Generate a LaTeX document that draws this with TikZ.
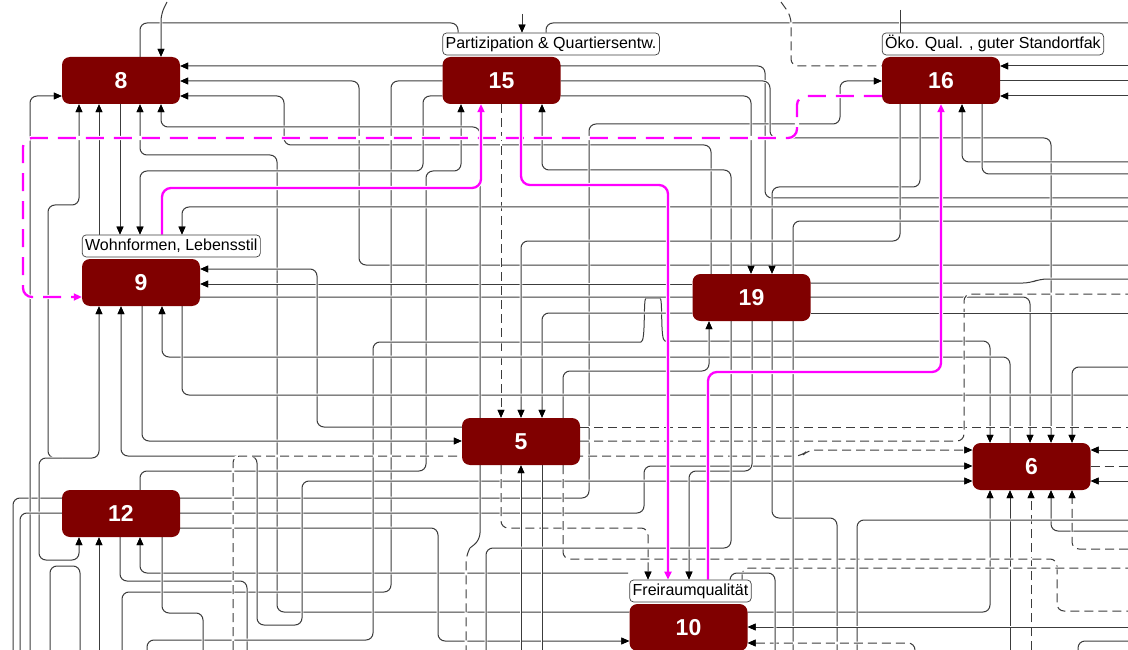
\documentclass[tikz,border=0pt]{standalone}
\usepackage{fontspec}
\setmainfont{Liberation Sans}
\usetikzlibrary{arrows.meta}
\pgfdeclarelayer{bg}
\pgfsetlayers{bg,main}
\definecolor{nodefill}{HTML}{800000}
\definecolor{lc}{HTML}{3C3C3C}
\definecolor{mag}{HTML}{FF00FF}
\tikzset{
  box/.style={fill=nodefill, rounded corners=8pt, minimum width=118pt, minimum height=47pt, inner sep=0pt, text=white, font=\fontsize{23}{23}\selectfont\bfseries},
  lab/.style={draw=black!75, fill=white, rounded corners=4pt, line width=0.7pt, inner xsep=3pt, inner ysep=1pt, minimum height=22pt, font=\fontsize{16}{16}\selectfont, anchor=south west},
  ln/.style={draw=lc, line width=1pt, rounded corners=7pt, preaction={draw=white, line width=2.8pt}},
  dl/.style={ln, dash pattern=on 9pt off 5pt},
  ar/.style={-{Triangle[length=8pt,width=6.5pt,color=black]}},
  ab/.style={{Triangle[length=8pt,width=6.5pt,color=black]}-{Triangle[length=8pt,width=6.5pt,color=black]}},
  mg/.style={draw=mag, line width=2.3pt, rounded corners=9pt, preaction={draw=white,line width=4.2pt}},
  mgd/.style={mg, dash pattern=on 18pt off 10pt},
  mar/.style={-{Triangle[length=8pt,width=7pt]}},
}
\begin{document}
\begin{tikzpicture}[x=1pt,y=-1pt]
\useasboundingbox (0,0) rectangle (1128,650);
% nodes
\node[box] (n8) at (121,80.5) {8};
\node[box] (n15) at (501.5,80.5) {15};
\node[box] (n16) at (941,80.5) {16};
\node[box] (n9) at (141,282.5) {9};
\node[box] (n19) at (751.5,297.5) {19};
\node[box] (n5) at (521,441.5) {5};
\node[box] (n6) at (1031.5,466.5) {6};
\node[box] (n12) at (121,513.5) {12};
\node[box] (n10) at (688.5,627.5) {10};
\node[lab] (l15) at ([yshift=1.5pt]n15.north west) {Partizipation \& Quartiersentw.};
\node[lab] (l16) at ([yshift=1.5pt]n16.north west) {Öko. Qual. , guter Standortfak};
\node[lab] (l9) at ([yshift=1.5pt]n9.north west) {Wohnformen, Lebensstil};
\node[lab] (l10) at ([yshift=1.5pt]n10.north west) {Freiraumqualität};
\begin{pgfonlayer}{bg}
\fill[white] (0,0) rectangle (1128,650);
% black connectors
\draw[ln] (n8.north -| 140,0) -- (140,23) -- (458,23) -- (l15.north -| 458,0);
\draw[ln,ar] (167,2) -- (161,14) -- (n8.north -| 161,0);
\draw[ln,ar] (1128,198) -- (765,198) -- (765,66) -- (n8.east |- 0,66);
\draw[ln,ar] (1128,265) -- (359,265) -- (359,81) -- (n8.east |- 0,81);
\draw[ln,ar] (n19.north -| 711,0) -- (711,145) -- (284,145) -- (284,96) -- (n8.east |- 0,96);
\draw[ln,ar] (n19.north -| 731,0) -- (731,170) -- (542,170) -- (n15.south -| 542,0);
\draw[ln,ar] (l9.north -| 99,0) -- (n8.south -| 99,0);
\draw[ln,ar] (n8.south -| 120,0) -- (l9.north -| 120,0);
\draw[ln,ar] (n10.west |- 0,612) -- (277,612) -- (277,155) -- (140,155) -- (n8.south -| 140,0);
\draw[ln,ar] (n10.east |- 0,612) -- (990,612) -- (n6.south -| 990,0);
\draw[ln] (n15.west |- 0,81) -- (391,81) -- (391,592) -- (122,592) -- (122,650);
\draw[ln,ar] (522,14) -- (l15.north -| 522,0);
\draw[ln] (l15.north -| 546,0) -- (546,23) -- (1128,23);
\draw[ln,ar] (n15.west |- 0,96) -- (423,96) -- (423,171) -- (140,171) -- (l9.north -| 140,0);
\draw[ln,ar] (n12.north -| 140,0) -- (140,471) -- (426,471) -- (426,171) -- (461,171) -- (n15.south -| 461,0);
\draw[dl,ar] (n15.south -| 501,0) -- (n5.north -| 501,0);
\draw[ln,ar] (13,650) -- (13,498) -- (589,498) -- (589,124) -- (840,124) -- (840,81) -- (n16.west |- 0,81);
\draw[ln,ar] (n15.east |- 0,96) -- (751,96) -- (n19.north -| 751,0);
\draw[ln,ar] (n15.east |- 0,81) -- (770,81) -- (770,138) -- (1051,138) -- (n6.north -| 1051,0);
\draw[ln,ar] (n16.south -| 920,0) -- (920,187) -- (772,187) -- (n19.north -| 772,0);
\draw[ln,ar] (1128,162) -- (962,162) -- (n16.south -| 962,0);
\draw[ln] (n16.south -| 982,0) -- (982,174) -- (1128,174);
\draw[ln,ar] (1128,66) -- (n16.east |- 0,66);
\draw[ln] (n16.east |- 0,81) -- (1128,81);
\draw[ln,ar] (1128,96) -- (n16.east |- 0,96);
\draw[dl] (781,2) -- (791,16) -- (791,66) -- (n16.west |- 0,66);
\draw[ln] (900,10) -- (l16.north -| 900,0);
\draw[ln,ar] (30,650) -- (30,96) -- (n8.west |- 0,96);
\draw[ln,ab] (n9.south -| 99,0) -- (99,458) -- (48,458) -- (48,205) -- (79,205) -- (n8.south -| 79,0);
\draw[ln,ar] (62,458) -- (39,458) -- (39,560) -- (79,560) -- (n12.south -| 79,0);
\draw[ln] (50,650) -- (50,566) -- (80,566) -- (80,650);
\draw[ln,ar] (99,650) -- (n12.south -| 99,0);
\draw[ln] (n12.south -| 120,0) -- (120,581) -- (247,581) -- (247,650);
\draw[ln,ar] (628,573) -- (140,573) -- (n12.south -| 140,0);
\draw[ln,ar] (20,650) -- (20,513) -- (644,513) -- (644,466) -- (n6.west |- 0,466);
\draw[ln,ar] (n12.east |- 0,528) -- (438,528) -- (438,641) -- (n10.west |- 0,641);
\draw[ln,ab] (n9.south -| 121,0) -- (121,456) -- (257,456) -- (257,625) -- (302,625) -- (302,481) -- (n6.west |- 0,481);
\draw[ln,ar] (147,650) -- (147,640) -- (373,640) -- (373,342) -- (634,342)
   .. controls (646,342) and (643,298) .. (653,298)
   .. controls (663,298) and (660,341) .. (672,341) -- (990,341) -- (n6.north -| 990,0);
\draw[ln,ar] (n9.east |- 0,297) -- (1030,297) -- (n6.north -| 1030,0);
\draw[ln,ar] (n19.west |- 0,284) -- (n9.east |- 0,284);
\draw[ln,ar] (n5.west |- 0,427) -- (317,427) -- (317,269) -- (n9.east |- 0,269);
\draw[ln,ar] (n19.west |- 0,313) -- (542,313) -- (n5.north -| 542,0);
\draw[ln,ar] (n16.south -| 900,0) -- (900,241) -- (521,241) -- (n5.north -| 521,0);
\draw[ln,ar] (n5.north -| 563,0) -- (563,371) -- (709,371) -- (n19.south -| 709,0);
\draw[ln,ar] (n6.north -| 1010,0) -- (1010,357) -- (162,357) -- (n9.south -| 162,0);
\draw[ln] (n9.south -| 182,0) -- (182,395) -- (1128,395);
\draw[ln,ar] (n9.south -| 142,0) -- (142,441) -- (n5.west |- 0,441);
\draw[ln,ar] (1128,207) -- (182,207) -- (l9.north -| 182,0);
\draw[ln,ar] (1128,367) -- (1072,367) -- (n6.north -| 1072,0);
\draw[ln,ar] (1128,450) -- (n6.east |- 0,450);
\draw[dl] (n6.east |- 0,466) -- (1128,466);
\draw[ln,ar] (1128,481) -- (n6.east |- 0,481);
\draw[ln,ar] (1010,650) -- (n6.south -| 1010,0);
\draw[dl,ar] (1031,650) -- (n6.south -| 1031,0);
\draw[ln,ar] (1128,531) -- (1051,531) -- (n6.south -| 1051,0);
\draw[dl,ar] (1128,549) -- (1072,549) -- (n6.south -| 1072,0);
\draw[dl] (n5.east |- 0,427) -- (1128,427);
\draw[dl] (n5.east |- 0,441) -- (964,441) -- (964,294) -- (1128,294);
\draw[dl,ar] (233,650) -- (233,456) -- (802,456) -- (808,450) -- (n6.west |- 0,450);
\draw[dl,ar] (n5.south -| 501,0) -- (501,528) -- (648,528) -- (l10.north -| 648,0);
\draw[ln,ar] (521,650) -- (n5.south -| 521,0);
\draw[ln] (n5.south -| 542,0) -- (542,650);
\draw[dl] (n5.south -| 563,0) -- (563,559) -- (1057,559) -- (1057,611) -- (1128,611);
\draw[dl] (l10.north -| 742,0) -- (742,568) -- (1128,568);
\draw[ln,ar] (n19.south -| 752,0) -- (752,471) -- (689,471) -- (l10.north -| 689,0);
\draw[ln] (n19.south -| 731,0) -- (731,548) -- (486,548) -- (486,650);
\draw[ln] (n19.south -| 772,0) -- (772,518) -- (837,518) -- (837,650);
\draw[ln] (1128,221) -- (793,221) -- (793,650);
\draw[ln] (n19.east |- 0,283) -- (1030,283) -- (1040,279) -- (1128,279);
\draw[ln] (n19.east |- 0,313) -- (1128,313);
\draw[ln] (857,650) -- (857,520) -- (1128,520);
\draw[ln,ar] (1128,627) -- (n10.east |- 0,627);
\draw[dl,ar] (915,650) -- (915,643) -- (n10.east |- 0,643);
\draw[ln] (1078,650) -- (1078,641) -- (1128,641);
\draw[ln] (l10.north -| 730,0) -- (730,573) -- (775,573) -- (775,650);
\draw[ln] (n12.south -| 162,0) -- (162,613) -- (203,613) -- (203,650);
\draw[ln,ar] (470,548) -- (480,540) -- (480,127) -- (161,127) -- (n8.south -| 161,0);
\draw[dl] (470,548) -- (466,556) -- (466,650);
% magenta connectors
\draw[mgd,mar] (n16.west |- 0,96) -- (797,96) -- (797,138) -- (23,138) -- (23,297) -- (n9.west |- 0,297);
\draw[mg,mar] (l9.north -| 162,0) -- (162,188) -- (481,188) -- (n15.south -| 481,0);
\draw[mg,mar] (n15.south -| 521,0) -- (521,185) -- (668,185) -- (l10.north -| 668,0);
\draw[mg,mar] (l10.north -| 708,0) -- (708,372) -- (941,372) -- (n16.south -| 941,0);
\end{pgfonlayer}
\end{tikzpicture}
\end{document}
